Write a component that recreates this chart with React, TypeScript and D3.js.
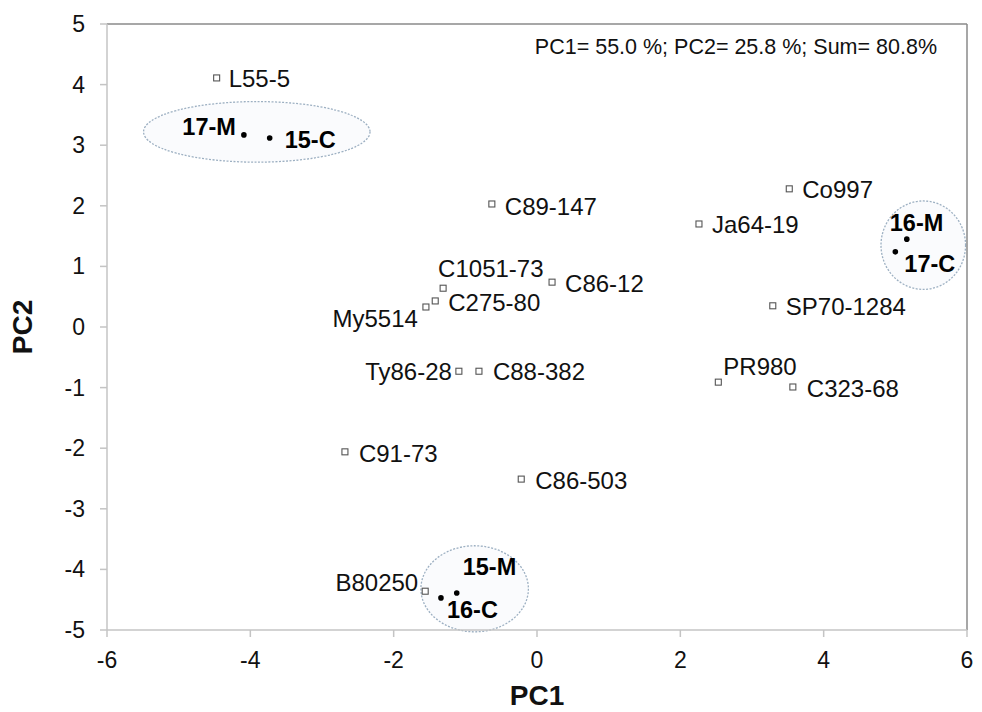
import React from "react";
import * as d3 from "d3";

// ---- data ----
const cultivars = ["L55-5", "C89-147", "Co997", "Ja64-19", "C1051-73", "C86-12", "C275-80", "My5514", "SP70-1284", "Ty86-28", "C88-382", "PR980", "C323-68", "C91-73", "C86-503", "B80250"];
const cultivarPC1 = [-4.47, -0.63, 3.52, 2.26, -1.31, 0.21, -1.42, -1.55, 3.29, -1.09, -0.81, 2.53, 3.57, -2.68, -0.22, -1.56];
const cultivarPC2 = [4.11, 2.03, 2.28, 1.7, 0.64, 0.74, 0.43, 0.33, 0.35, -0.73, -0.73, -0.91, -0.99, -2.06, -2.51, -4.36];

const environments = ["17-M", "15-C", "16-M", "17-C", "15-M", "16-C"];
const envPC1 = [-4.09, -3.73, 5.16, 5.0, -1.12, -1.34];
const envPC2 = [3.17, 3.12, 1.45, 1.24, -4.39, -4.47];

// groups (ellipse centre and radii in PC units)
const groupCx = [-3.91, 5.39, -0.87];
const groupCy = [3.22, 1.35, -4.32];
const groupRx = [1.58, 0.59, 0.75];
const groupRy = [0.5, 0.73, 0.71];

const xTicks = [-6, -4, -2, 0, 2, 4, 6];
const yTicks = [5, 4, 3, 2, 1, 0, -1, -2, -3, -4, -5];
const varianceNote = "PC1= 55.0 %; PC2= 25.8 %; Sum= 80.8%";

// ---- layout (label offsets in px: dx, dy to baseline, anchor) ----
const cultivarLabelPos: [number, number, string][] = [
  [12, 9, "start"], // L55-5
  [13, 11, "start"], // C89-147
  [13, 9, "start"], // Co997
  [13, 9, "start"], // Ja64-19
  [-5, -11, "start"], // C1051-73
  [13, 10, "start"], // C86-12
  [13, 10, "start"], // C275-80
  [-8, 20, "end"], // My5514
  [13, 9, "start"], // SP70-1284
  [-7, 9, "end"], // Ty86-28
  [14, 9, "start"], // C88-382
  [5, -7, "start"], // PR980
  [14, 10, "start"], // C323-68
  [14, 10, "start"], // C91-73
  [14, 10, "start"], // C86-503
  [-7, 0, "end"], // B80250
];
const envLabelPos: [number, number, string][] = [
  [-8, 0, "end"], // 17-M
  [15, 10, "start"], // 15-C
  [-17, -8, "start"], // 16-M
  [9, 20, "start"], // 17-C
  [6, -18, "start"], // 15-M
  [6, 20, "start"], // 16-C
];

const W = 982;
const H = 712;
const L = 107, R = 967, T = 24, B = 630;
const FONT = "'Liberation Sans', Arial, Helvetica, sans-serif";

export default function App() {
  const x = d3.scaleLinear().domain([-6, 6]).range([L, R]);
  const y = d3.scaleLinear().domain([-5, 5]).range([B, T]);
  const lightAxis = "#c4c4c4";
  const darkAxis = "#8a8a8a";

  return (
    <svg width={W} height={H} style={{ position: "absolute", left: 0, top: 0, background: "#fff" }} fontFamily={FONT}>
      <rect x={0} y={0} width={W} height={H} fill="#fff" />
      {/* group ellipses */}
      {groupCx.map((cx, i) => {
        const px = x(cx);
        const py = y(groupCy[i]);
        const rx = x(cx + groupRx[i]) - px;
        const ry = py - y(groupCy[i] + groupRy[i]);
        return (
          <ellipse key={"e" + i} cx={px} cy={py} rx={rx} ry={ry} fill="#fafbfd" stroke="#9db0c2" strokeWidth={1.3} strokeDasharray="2,1.5" />
        );
      })}
      {/* frame */}
      <line x1={L} x2={R} y1={T} y2={T} stroke={darkAxis} strokeWidth={1.5} />
      <line x1={R} x2={R} y1={T} y2={B} stroke={darkAxis} strokeWidth={1.5} />
      <line x1={L} x2={L} y1={T} y2={B} stroke={lightAxis} strokeWidth={1.5} />
      <line x1={L} x2={R} y1={B} y2={B} stroke={lightAxis} strokeWidth={1.5} />
      {/* y ticks */}
      {yTicks.map((t) => (
        <g key={"y" + t}>
          <line x1={L - 7} x2={L} y1={y(t)} y2={y(t)} stroke={lightAxis} strokeWidth={1.5} />
          <text x={L - 22} y={y(t) + 8} fontSize={23} textAnchor="end" fill="#111">
            {t}
          </text>
        </g>
      ))}
      {/* x ticks */}
      {xTicks.map((t) => (
        <g key={"x" + t}>
          <line x1={x(t)} x2={x(t)} y1={B} y2={B + 7} stroke={lightAxis} strokeWidth={1.5} />
          <text x={x(t)} y={B + 38} fontSize={23} textAnchor="middle" fill="#111">
            {t}
          </text>
        </g>
      ))}
      {/* axis titles */}
      <text x={(L + R) / 2} y={705} fontSize={28} fontWeight="bold" textAnchor="middle" fill="#111">
        PC1
      </text>
      <text transform={`translate(32,${(T + B) / 2}) rotate(-90)`} fontSize={28} fontWeight="bold" textAnchor="middle" fill="#111">
        PC2
      </text>
      {/* variance note */}
      <text x={937} y={54} fontSize={21.5} textAnchor="end" fill="#111">
        {varianceNote}
      </text>
      {/* cultivars */}
      {cultivars.map((c, i) => {
        const px = x(cultivarPC1[i]);
        const py = y(cultivarPC2[i]);
        const [dx, dy, anchor] = cultivarLabelPos[i];
        return (
          <g key={"c" + i}>
            <rect x={px - 3} y={py - 3} width={6} height={6} fill="#fff" stroke="#555" strokeWidth={1.1} />
            <text x={px + dx} y={py + dy} fontSize={24} textAnchor={anchor} fill="#111">
              {c}
            </text>
          </g>
        );
      })}
      {/* environments */}
      {environments.map((e, i) => {
        const px = x(envPC1[i]);
        const py = y(envPC2[i]);
        const [dx, dy, anchor] = envLabelPos[i];
        return (
          <g key={"v" + i}>
            <circle cx={px} cy={py} r={2.8} fill="#000" />
            <text x={px + dx} y={py + dy} fontSize={23.5} fontWeight="bold" textAnchor={anchor} fill="#000">
              {e}
            </text>
          </g>
        );
      })}
    </svg>
  );
}
